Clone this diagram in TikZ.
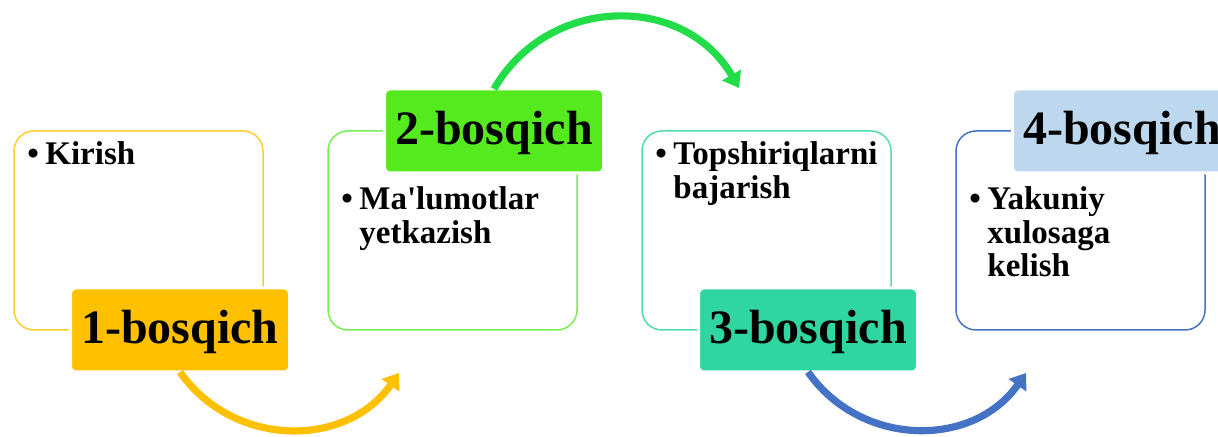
\documentclass[tikz,border=0pt]{standalone}
\usepackage{fontspec}
\setmainfont{Liberation Serif}
\usetikzlibrary{positioning,arrows.meta}
\definecolor{gold}{HTML}{FFC000}
\definecolor{goldline}{HTML}{FFCC33}
\definecolor{leaf}{HTML}{55EA1E}
\definecolor{leafline}{HTML}{77EE55}
\definecolor{grass}{HTML}{22DD48}
\definecolor{mint}{HTML}{30D6A2}
\definecolor{mintline}{HTML}{50DCB0}
\definecolor{sky}{HTML}{BDD7EE}
\definecolor{navy}{HTML}{4472C4}
\newcommand{\bul}{\makebox[9pt][l]{\textbullet}}

\begin{document}
\begin{tikzpicture}[>={Triangle[length=7.5pt,width=10.5pt]},node distance=32.5pt,font=\bfseries]
\tikzstyle{stagebox}=[draw,line width=0.75pt,rounded corners=10pt,minimum width=124.5pt,minimum height=99.5pt,inner sep=0pt,outer sep=0pt]
\tikzstyle{stagelabel}=[draw=white,line width=1.5pt,rounded corners=2.5pt,minimum width=109.5pt,minimum height=42pt,inner sep=0pt,outer sep=0pt,font=\fontsize{24}{24}\selectfont\bfseries,text height=16pt,text depth=2pt]
\tikzstyle{item}=[anchor=base west,inner sep=0pt,font=\fontsize{16.5}{16.75}\selectfont\bfseries]
\tikzstyle{flow}=[->,line width=3.6pt]
\clip (0,0) rectangle (609pt,-218.5pt);
% outline boxes
\node[stagebox,draw=goldline] (B1) at (69.25pt,-115.25pt) {};
\node[stagebox,draw=leafline] (B2) [right=of B1] {};
\node[stagebox,draw=mintline] (B3) [right=of B2] {};
\node[stagebox,draw=navy] (B4) [right=of B3] {};
% stage labels
\node[stagelabel,fill=gold] (L1) at ([xshift=20.75pt]B1.south) {1-bosqich};
\node[stagelabel,fill=leaf] (L2) at ([xshift=20.75pt]B2.north) {2-bosqich};
\node[stagelabel,fill=mint] (L3) at ([xshift=20.75pt]B3.south) {3-bosqich};
\node[stagelabel,fill=sky] (L4) at ([xshift=20.75pt]B4.north) {4-bosqich};
% bullet texts
\node[item] (T1) at ([shift={(6.5pt,-17pt)}]B1.north west)
  {\begin{tabular}[t]{@{}l@{}l@{}}\bul&Kirish\end{tabular}};
\node[item] (T2) at ([shift={(6.5pt,-39.5pt)}]B2.north west)
  {\begin{tabular}[t]{@{}l@{}l@{}}\bul&Ma\textquotesingle lumotlar\\&yetkazish\end{tabular}};
\node[item] (T3) at ([shift={(6.5pt,-17pt)}]B3.north west)
  {\begin{tabular}[t]{@{}l@{}l@{}}\bul&Topshiriqlarni\\&bajarish\end{tabular}};
\node[item] (T4) at ([shift={(6.5pt,-39.5pt)}]B4.north west)
  {\begin{tabular}[t]{@{}l@{}l@{}}\bul&Yakuniy\\&xulosaga\\&kelish\end{tabular}};
% arrow ends
\coordinate (E1) at ([shift={(35.5pt,-21.5pt)}]B2.south west);
\coordinate (E2) at ([shift={(48.5pt,21.5pt)}]B3.north west);
\coordinate (E3) at ([shift={(35pt,-21.5pt)}]B4.south west);
\draw[flow,color=gold] (L1.south) to[out=-55,in=-125,looseness=1.08] (E1);
\draw[flow,color=grass] (L2.north) to[out=60,in=120,looseness=1.14] (E2);
\draw[flow,color=navy] (L3.south) to[out=-55,in=-125,looseness=1.08] (E3);
\end{tikzpicture}
\end{document}
